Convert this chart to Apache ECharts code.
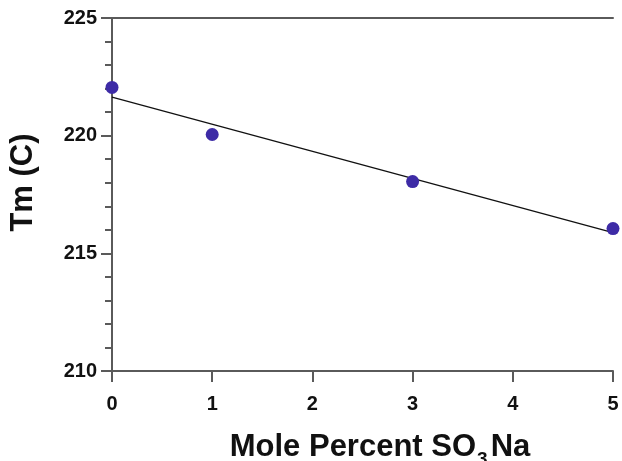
<!DOCTYPE html>
<html>
<head>
<meta charset="utf-8">
<script src="https://cdn.jsdelivr.net/npm/echarts@6/dist/echarts.min.js"></script>
<style>html,body{margin:0;padding:0;background:#fff;}#c{width:622px;height:461px;}</style>
</head>
<body>
<div id="c"></div>
<script>
// Data
const molePercent = [0, 1, 3, 5];
const tmValues = [222.05, 220.05, 218.05, 216.05];
const fitX = [0, 5];
const fitY = [221.64, 215.88];
const yTicks = [210, 215, 220, 225];
const xTicks = [0, 1, 2, 3, 4, 5];

const FONT = '"Liberation Sans", Arial, Helvetica, sans-serif';
const AX = '#5a5a5a';

const chart = echarts.init(document.getElementById('c'), null, {renderer: 'canvas'});
chart.setOption({
  animation: false,
  backgroundColor: '#fff',
  grid: {left: 112, top: 18, right: 9, bottom: 90, show: false},
  xAxis: [{
    type: 'value', min: xTicks[0], max: xTicks[xTicks.length - 1], interval: 1,
    axisLine: {show: true, onZero: false, lineStyle: {color: AX, width: 2}},
    axisTick: {show: true, inside: false, length: 11, lineStyle: {color: AX, width: 2}},
    axisLabel: {margin: 23, fontSize: 20, fontWeight: 'bold', color: '#111', fontFamily: FONT},
    splitLine: {show: false}
  }, {
    type: 'value', position: 'top', min: 0, max: 5,
    axisLine: {show: true, lineStyle: {color: AX, width: 2}},
    axisTick: {show: false}, axisLabel: {show: false}, splitLine: {show: false}
  }],
  yAxis: [{
    type: 'value', min: yTicks[0], max: yTicks[yTicks.length - 1], interval: 5,
    axisLine: {show: true, onZero: false, lineStyle: {color: AX, width: 2}},
    axisTick: {show: true, inside: false, length: 11, lineStyle: {color: AX, width: 2}},
    minorTick: {show: true, splitNumber: 5, length: 7, lineStyle: {color: AX, width: 2}},
    axisLabel: {margin: 15, fontSize: 20, fontWeight: 'bold', color: '#111', fontFamily: FONT},
    splitLine: {show: false}
  }, {
    type: 'value', position: 'right', min: 210, max: 225,
    axisLine: {show: true, lineStyle: {color: AX, width: 2}},
    axisTick: {show: false}, axisLabel: {show: false}, splitLine: {show: false}
  }],
  series: [{
    type: 'line',
    data: fitX.map((x, i) => [x, fitY[i]]),
    showSymbol: false, symbol: 'none',
    lineStyle: {color: '#111', width: 1.3},
    z: 2
  }, {
    type: 'scatter',
    data: molePercent.map((x, i) => [x, tmValues[i]]),
    symbolSize: 13,
    itemStyle: {color: '#3d2ba6', opacity: 1},
    clip: false,
    z: 3
  }],
  graphic: [{
    type: 'text',
    x: 23.5, y: 182.5, rotation: Math.PI / 2,
    style: {text: 'Tm (C)', fontSize: 31, fontWeight: 'bold', fontFamily: FONT, fill: '#111',
            align: 'center', verticalAlign: 'middle'}
  }, {
    type: 'text',
    x: 380, y: 446,
    style: {
      text: '{a|Mole Percent SO}{s|3}{a|Na}',
      align: 'center', verticalAlign: 'middle',
      fontFamily: FONT, fill: '#111', fontWeight: 'bold',
      rich: {
        a: {fontSize: 31, fontWeight: 'bold', fontFamily: FONT, fill: '#111', lineHeight: 34, verticalAlign: 'bottom'},
        s: {fontSize: 19, fontWeight: 'bold', fontFamily: FONT, fill: '#111', lineHeight: 34, verticalAlign: 'bottom', padding: [0, 3, -6, 1]}
      }
    }
  }]
});
</script>
</body>
</html>
